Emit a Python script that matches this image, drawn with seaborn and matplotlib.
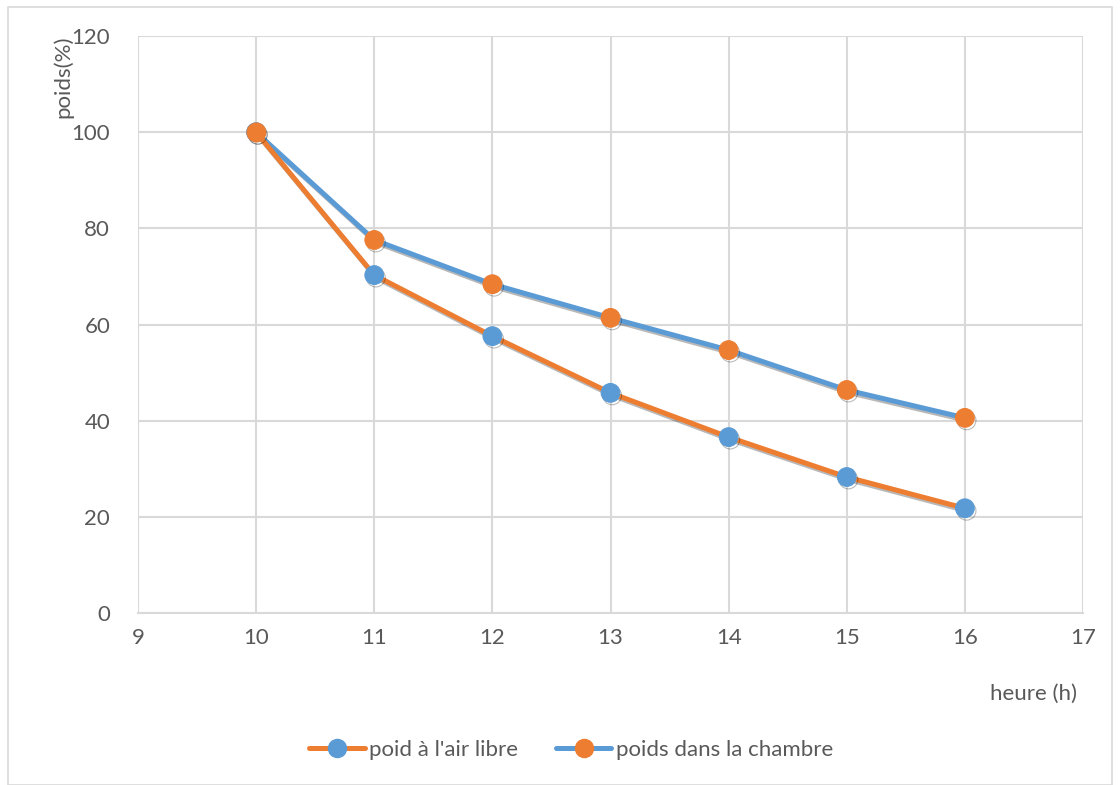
import matplotlib
matplotlib.use('Agg')
import matplotlib.pyplot as plt
import matplotlib.patheffects as pe
from matplotlib.lines import Line2D
from matplotlib.patches import Rectangle
import pandas as pd
import seaborn as sns

# ── Data ──────────────────────────────────────────────────────────────────────
heures = [10, 11, 12, 13, 14, 15, 16]
poids_air_libre = [100, 70.3, 57.6, 45.8, 36.6, 28.3, 21.8]
poids_chambre = [100, 77.6, 68.4, 61.4, 54.7, 46.4, 40.6]
x_ticks = [9, 10, 11, 12, 13, 14, 15, 16, 17]
y_ticks = [0, 20, 40, 60, 80, 100, 120]

BLUE = '#5B9BD5'
ORANGE = '#ED7D31'
GRID = '#D9D9D9'
TEXT = '#595959'
FS = 16

sns.set_theme(style='white')
plt.rcParams['font.family'] = ['Lato', 'DejaVu Sans']

df = pd.DataFrame({'heure': heures, 'air': poids_air_libre, 'chambre': poids_chambre})

fig = plt.figure(figsize=(11.2, 7.85), dpi=100)
ax = fig.add_axes([0.1232, 0.219, 0.8438, 0.735])

shadow = [pe.SimpleLineShadow(offset=(1.2, -1.8), shadow_color='black', alpha=0.28),
          pe.Normal()]

# line colour and marker colour are swapped between the two series
sns.lineplot(data=df, x='heure', y='chambre', ax=ax, color=BLUE, linewidth=3.6,
             marker='o', markersize=13.5, markerfacecolor=ORANGE, markeredgecolor=ORANGE,
             path_effects=shadow, zorder=3)
sns.lineplot(data=df, x='heure', y='air', ax=ax, color=ORANGE, linewidth=3.6,
             marker='o', markersize=13.5, markerfacecolor=BLUE, markeredgecolor=BLUE,
             path_effects=shadow, zorder=4)
# first point shows orange on top
sns.lineplot(x=df['heure'][:1], y=df['chambre'][:1], ax=ax, color=BLUE, linewidth=0,
             marker='o', markersize=13.5, markerfacecolor=ORANGE, markeredgecolor=ORANGE,
             zorder=5)

ax.set_xlim(9, 17)
ax.set_ylim(0, 120)
ax.set_xticks(x_ticks)
ax.set_yticks(y_ticks)
ax.grid(True, color=GRID, linewidth=1.5)
ax.set_axisbelow(True)
for s in ['top', 'right', 'left']:
    ax.spines[s].set_visible(False)
ax.spines['bottom'].set_color(GRID)
ax.spines['bottom'].set_linewidth(1.5)
ax.tick_params(axis='both', colors=TEXT, labelsize=FS, length=0)
ax.tick_params(axis='x', pad=11)
ax.tick_params(axis='y', pad=20)
ax.set_xlabel('')
ax.set_ylabel('')

fig.text(63 / 1120, 1 - 77 / 785, 'poids(%)', rotation=90, ha='center', va='center',
         color=TEXT, fontsize=FS)
fig.text(1033 / 1120, 1 - 694 / 785, 'heure (h)', ha='center', va='center',
         color=TEXT, fontsize=FS)

handles = [
    Line2D([], [], color=ORANGE, linewidth=3.6, marker='o', markersize=13,
           markerfacecolor=BLUE, markeredgecolor=BLUE),
    Line2D([], [], color=BLUE, linewidth=3.6, marker='o', markersize=13,
           markerfacecolor=ORANGE, markeredgecolor=ORANGE),
]
fig.legend(handles, ["poid à l'air libre", 'poids dans la chambre'],
           loc='center', bbox_to_anchor=(571 / 1120, 1 - 750 / 785), ncol=2, frameon=False,
           fontsize=FS, labelcolor=TEXT, handlelength=2.5, handletextpad=0.2,
           columnspacing=1.7)

fig.patches.append(Rectangle((8 / 1120, 0), 1 - 16 / 1120, 1 - 7 / 785,
                             transform=fig.transFigure, fill=False,
                             edgecolor=GRID, linewidth=1.2))

fig.savefig('out.png', dpi=100)
